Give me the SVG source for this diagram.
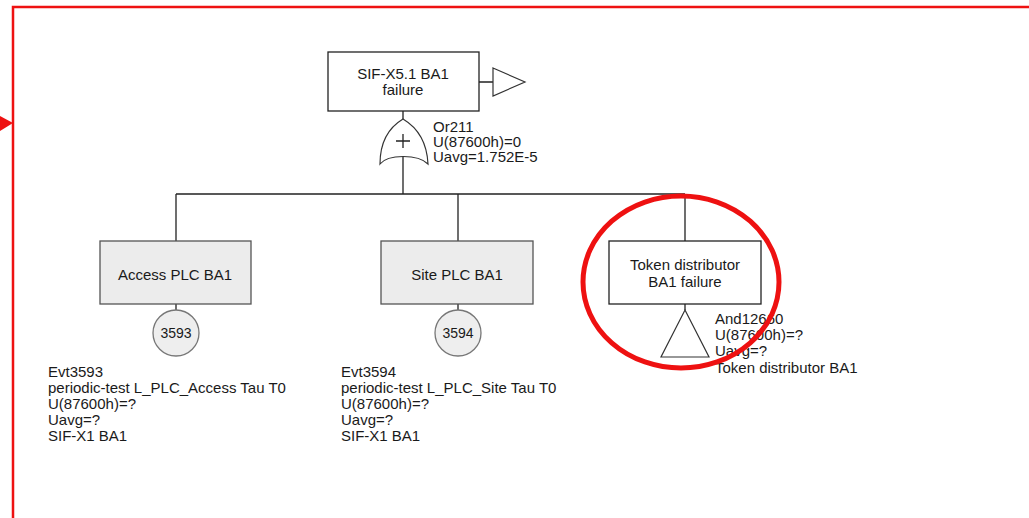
<svg xmlns="http://www.w3.org/2000/svg" width="1029" height="518" viewBox="0 0 1029 518">
<style>
text{font-family:"Liberation Sans",Arial,sans-serif;font-size:15px;fill:#1a1a1a}
.c{text-anchor:middle}
.sm{font-size:14px}
.ln{stroke:#222;stroke-width:1.3;fill:none}
.gate{stroke:#333;stroke-width:1.2;fill:#fff}
.box{stroke:#222;stroke-width:1.3;fill:#fff}
.gbox{stroke:#555;stroke-width:1.3;fill:#ececec}
.ev{stroke:#777;stroke-width:1.3;fill:#eeeeee}
.red{stroke:#ee1111;fill:none}
</style>
<rect x="0" y="0" width="1029" height="518" fill="#fff"/>
<g id="frame">
<path class="red" stroke-width="2.5" d="M13 518 V7 H1029"/>
<polygon points="0,116 13,123 0,131" fill="#ee1111"/>
</g>
<g id="connectors">
<path class="ln" d="M403 111 V119 M403 153 V194 M176 194 H685 M176 194 V241 M458 194 V241 M685 194 V241 M479 82 H493 M176 304 V310 M458 304 V310 M685 304 V310"/>
</g>
<g id="top">
<rect class="box" x="328" y="52" width="151" height="59"/>
<text class="c" x="403" y="79">SIF-X5.1 BA1</text>
<text class="c" x="403" y="95">failure</text>
<polygon class="gate" points="493,68 525,82 493,96"/>
</g>
<g id="or211">
<path class="gate" d="M403 119 C418 128 427 143 428 164 C418 154 388 154 380 164 C380 143 388 128 403 119 Z"/>
<path class="ln" d="M396 141 H410 M403 134 V148"/>
<text x="433" y="132">Or211</text>
<text x="433" y="147">U(87600h)=0</text>
<text x="433" y="162">Uavg=1.752E-5</text>
</g>
<g id="access">
<rect class="gbox" x="100" y="241" width="151" height="63"/>
<text class="c" x="175" y="280" fill="#333">Access PLC BA1</text>
<circle class="ev" cx="176" cy="333" r="23"/>
<text class="c sm" x="176" y="338">3593</text>
<text x="48" y="377">Evt3593</text>
<text x="48" y="393">periodic-test L_PLC_Access Tau T0</text>
<text x="48" y="409">U(87600h)=?</text>
<text x="48" y="425">Uavg=?</text>
<text x="48" y="441">SIF-X1 BA1</text>
</g>
<g id="site">
<rect class="gbox" x="381" y="241" width="152" height="63"/>
<text class="c" x="457" y="280" fill="#333">Site PLC BA1</text>
<circle class="ev" cx="458" cy="333" r="23"/>
<text class="c sm" x="458" y="338">3594</text>
<text x="341" y="377">Evt3594</text>
<text x="341" y="393">periodic-test L_PLC_Site Tau T0</text>
<text x="341" y="409">U(87600h)=?</text>
<text x="341" y="425">Uavg=?</text>
<text x="341" y="441">SIF-X1 BA1</text>
</g>
<g id="token">
<rect class="box" x="609" y="241" width="152" height="63"/>
<text class="c" x="685" y="270">Token distributor</text>
<text class="c" x="685" y="287">BA1 failure</text>
<polygon class="gate" points="685,310 709,357 661,357"/>
<text x="715" y="324">And12660</text>
<text x="715" y="340">U(87600h)=?</text>
<text x="715" y="356">Uavg=?</text>
<text x="715" y="373">Token distributor BA1</text>
</g>
<g id="highlight">
<ellipse class="red" stroke-width="5" cx="681" cy="282" rx="98" ry="86"/>
</g>
</svg>
